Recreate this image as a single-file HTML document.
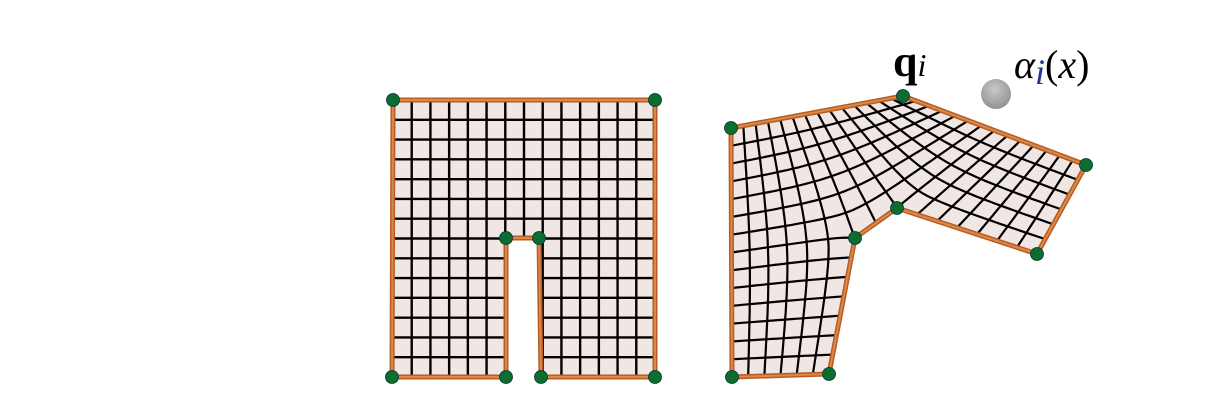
<!DOCTYPE html>
<html><head><meta charset="utf-8"><style>
html,body{margin:0;padding:0;background:#fff;width:1207px;height:407px;overflow:hidden}
svg{display:block}
</style></head><body>
<svg id="fig" width="1207" height="407" viewBox="0 0 1207 407">
<defs>
<radialGradient id="gball" cx="0.45" cy="0.35" r="0.7"><stop offset="0" stop-color="#c8c8c8"/><stop offset="1" stop-color="#8e8e8e"/></radialGradient>
</defs>
<g id="src"></g>
<g id="tgt"></g>
<text x="893" y="76" font-family="Liberation Serif, serif" font-size="44" font-weight="bold">q<tspan font-weight="normal" font-style="italic" font-size="32">i</tspan></text>
<circle cx="996" cy="94" r="15" fill="url(#gball)"/>
<text x="1014" y="78" font-family="Liberation Serif, serif" font-size="40" font-style="italic">α<tspan fill="#1a3a8a" font-size="36" dy="6">i</tspan><tspan dy="-6" font-style="normal">(</tspan>x<tspan font-style="normal">)</tspan></text>
</svg>
<script>
// source polygon vertices (pixels), their grid coords, and deformed positions
const srcX=[392,393,655,655,541,539,506,506];
const srcY=[377,100,100,377,377,238,238,377];
const gridX=[0,0,14,14,8,8,6,6];
const gridY=[14,0,0,14,14,7,7,14];
const tgtX=[732,731,903,1086,1037,897,855,829];
const tgtY=[377,128,96,165,254,208,238,374];
const nCols=14, nRows=14;
const NS='http://www.w3.org/2000/svg';
function el(tag,attrs,parent){const e=document.createElementNS(NS,tag);for(const k in attrs)e.setAttribute(k,attrs[k]);parent.appendChild(e);return e;}
const n=srcX.length;
const pts=(xs,ys)=>xs.map((x,i)=>x+','+ys[i]).join(' ');
const S=document.getElementById('src'),T=document.getElementById('tgt');
const fillS=el('polygon',{points:pts(srcX,srcY),fill:'#f0e6e4'},S);


const fillT=el('polygon',{points:pts(tgtX,tgtY),fill:'#f0e6e4'},T);


const gS=el('g',{stroke:'#000','stroke-width':2.4,fill:'none'},S);
const gT=el('g',{stroke:'#000','stroke-width':2.2,fill:'none','stroke-linejoin':'round'},T);
const x0=393,x1=655,y0=100,y1=377;
const cw=(x1-x0)/nCols, ch=(y1-y0)/nRows;
const slotL=gridX[6], slotR=gridX[5], slotT=gridY[5];
// source grid
for(let k=1;k<nCols;k++){const x=x0+k*cw;const inSlot=k>slotL&&k<slotR;
  el('line',{x1:x,y1:y0,x2:x,y2:inSlot?y0+slotT*ch:y1},gS);}
for(let k=1;k<nRows;k++){const y=y0+k*ch;
  if(k>slotT){el('line',{x1:x0,y1:y,x2:x0+slotL*cw,y2:y},gS);el('line',{x1:x0+slotR*cw,y1:y,x2:x1,y2:y},gS);}
  else el('line',{x1:x0,y1:y,x2:x1,y2:y},gS);}
// harmonic deformation on fine lattice
const r=3,NI=nCols*r,NJ=nRows*r;
const valid=(I,J)=>I>=0&&J>=0&&I<=NI&&J<=NJ&&!(I>slotL*r&&I<slotR*r&&J>slotT*r);
const PX=[],PY=[],fixed=[];
for(let I=0;I<=NI;I++){PX.push([]);PY.push([]);fixed.push([]);for(let J=0;J<=NJ;J++){PX[I].push(0);PY[I].push(0);fixed[I].push(false);}}
for(let e=0;e<n;e++){const f=(e+1)%n;
  const gi=gridX[e]*r,gj=gridY[e]*r,hi=gridX[f]*r,hj=gridY[f]*r;
  const m=Math.max(Math.abs(hi-gi),Math.abs(hj-gj));
  for(let s=0;s<=m;s++){const t=s/m;const I=Math.round(gi+(hi-gi)*t),J=Math.round(gj+(hj-gj)*t);
    PX[I][J]=tgtX[e]+(tgtX[f]-tgtX[e])*t;PY[I][J]=tgtY[e]+(tgtY[f]-tgtY[e])*t;fixed[I][J]=true;}}
// init interior
let cx=0,cy=0;for(let i=0;i<n;i++){cx+=tgtX[i]/n;cy+=tgtY[i]/n;}
for(let I=0;I<=NI;I++)for(let J=0;J<=NJ;J++)if(valid(I,J)&&!fixed[I][J]){PX[I][J]=cx;PY[I][J]=cy;}
const om=1.85;
for(let it=0;it<1500;it++){
  for(let I=1;I<NI;I++)for(let J=1;J<NJ;J++){
    if(!valid(I,J)||fixed[I][J])continue;
    const ax=(PX[I-1][J]+PX[I+1][J]+PX[I][J-1]+PX[I][J+1])/4;
    const ay=(PY[I-1][J]+PY[I+1][J]+PY[I][J-1]+PY[I][J+1])/4;
    PX[I][J]+=om*(ax-PX[I][J]);PY[I][J]+=om*(ay-PY[I][J]);}}
function poly(list){if(list.length>1)el('polyline',{points:list.map(p=>p[0].toFixed(1)+','+p[1].toFixed(1)).join(' ')},gT);}
for(let k=1;k<nCols;k++){const I=k*r;let cur=[];
  for(let J=0;J<=NJ;J++){if(valid(I,J))cur.push([PX[I][J],PY[I][J]]);else{poly(cur);cur=[];}}poly(cur);}
for(let k=1;k<nRows;k++){const J=k*r;let cur=[];
  for(let I=0;I<=NI;I++){if(valid(I,J))cur.push([PX[I][J],PY[I][J]]);else{poly(cur);cur=[];}}poly(cur);}
function outline(xs,ys,parent,name){
  const a=el('polygon',{points:pts(xs,ys),fill:'none',stroke:'#b85c22','stroke-width':5,'stroke-linejoin':'miter'},parent);
  
  
  el('polygon',{points:pts(xs,ys),fill:'none',stroke:'#d9894a','stroke-width':2},parent);
}
outline(srcX,srcY,S,'source-outline');
outline(tgtX,tgtY,T,'deformed-outline');
for(let i=0;i<n;i++){
  const c1=el('circle',{cx:srcX[i],cy:srcY[i],r:6.5,fill:'#0b6e30',stroke:'#033',"stroke-width":0.8},S);
  
  
  const c2=el('circle',{cx:tgtX[i],cy:tgtY[i],r:6.5,fill:'#0b6e30',stroke:'#033',"stroke-width":0.8},T);
  
  
}
</script>
</body></html>
